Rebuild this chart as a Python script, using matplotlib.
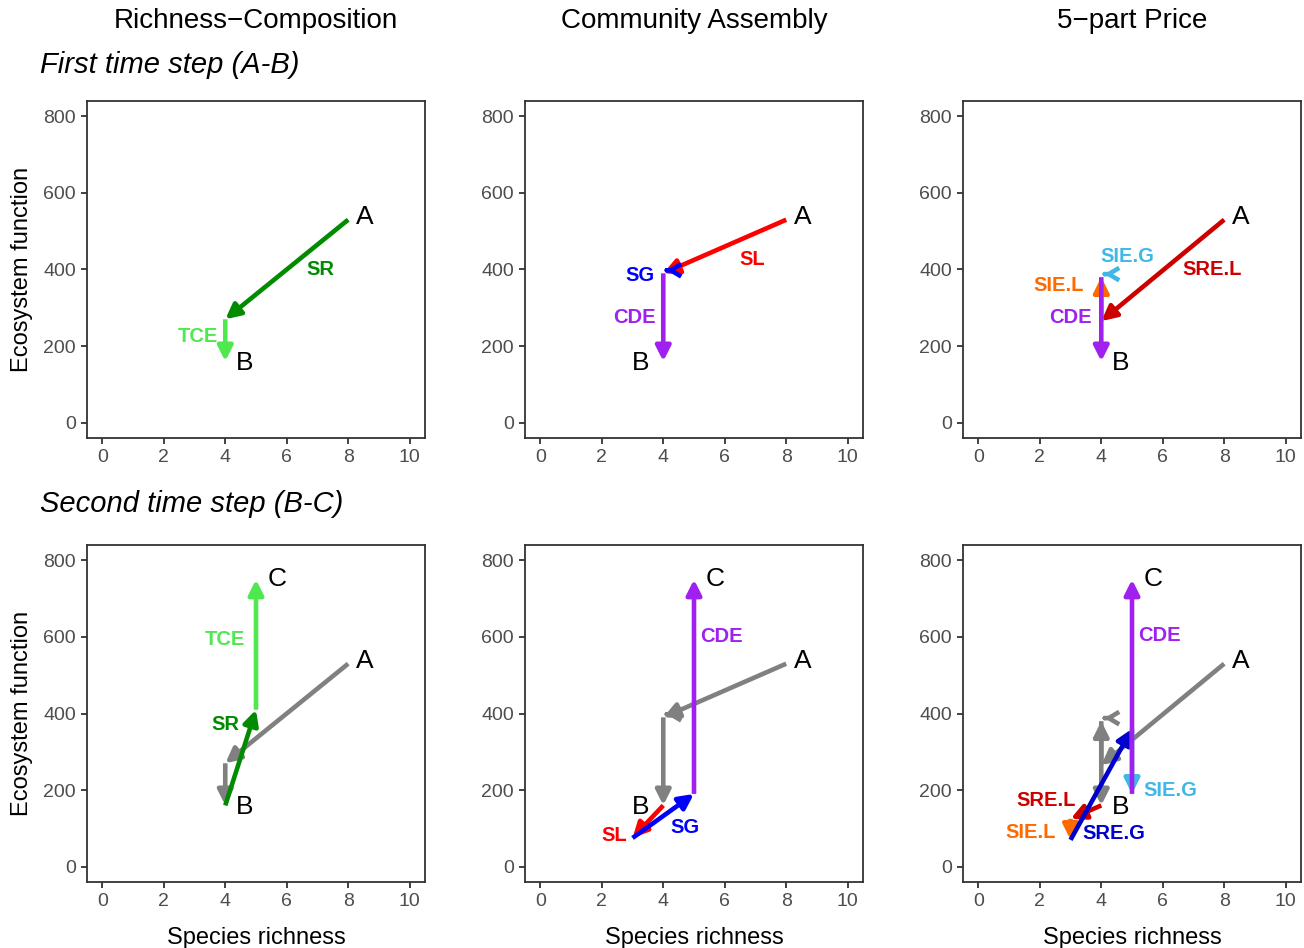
import numpy as np
import matplotlib
matplotlib.use("Agg")
import matplotlib.pyplot as plt

plt.rcParams['font.family'] = ['Liberation Sans', 'DejaVu Sans']

# reference points
A = (8, 530)
B = (4, 160)
C = (5, 750)

# path of each partition: richness and function after every component
# first time step (A-B)
rc1_x = [8, 4, 4]
rc1_y = [530, 270, 160]
rc1_parts = ["SR", "TCE"]

ca1_x = [8, 4, 4, 4]
ca1_y = [530, 390, 390, 160]
ca1_parts = ["SL", "SG", "CDE"]

pr1_x = [8, 4, 4, 4, 4]
pr1_y = [530, 265, 380, 380, 160]
pr1_parts = ["SRE.L", "SIE.L", "SIE.G", "CDE"]

# second time step (B-C)
rc2_x = [4, 5, 5]
rc2_y = [160, 410, 750]
rc2_parts = ["SR", "TCE"]

ca2_x = [4, 3, 5, 5]
ca2_y = [160, 75, 190, 750]
ca2_parts = ["SL", "SG", "CDE"]

pr2_x = [4, 3, 3, 5, 5, 5]
pr2_y = [160, 125, 70, 360, 190, 750]
pr2_parts = ["SRE.L", "SIE.L", "SRE.G", "SIE.G", "CDE"]

colors = {
    "SR": "#008B00", "TCE": "#4FE84F",
    "SL": "#FF0000", "SG": "#0000FF", "CDE": "#A020F0",
    "SRE.L": "#CD0000", "SIE.L": "#FF6A00", "SRE.G": "#0000CD",
    "SIE.G": "#3FB8E6",
}
grey = "#808080"

# label positions for the component names
lab1 = [
    {"SR": (7.1, 400), "TCE": (3.1, 226)},
    {"SL": (6.9, 426), "SG": (3.25, 384), "CDE": (3.05, 275)},
    {"SIE.G": (4.85, 434), "SRE.L": (7.6, 400), "SIE.L": (2.6, 358),
     "CDE": (3.0, 275)},
]
lab2 = [
    {"TCE": (4.0, 594), "SR": (4.0, 370)},
    {"CDE": (5.9, 601), "SL": (2.4, 82), "SG": (4.7, 102)},
    {"CDE": (5.9, 604), "SIE.G": (6.25, 198), "SRE.L": (2.2, 172),
     "SIE.L": (1.7, 88), "SRE.G": (4.4, 86)},
]

col_titles = ["Richness\u2212Composition", "Community Assembly", "5\u2212part Price"]

W, H = 1304, 948
fig = plt.figure(figsize=(W / 100, H / 100), dpi=100)


def draw_path(ax, xs, ys, parts, col=None):
    for k in range(len(parts)):
        x0, y0, x1, y1 = xs[k], ys[k], xs[k + 1], ys[k + 1]
        style = "-|>,head_length=0.9,head_width=0.45"
        if x0 == x1 and y0 == y1:
            # zero-length component: only an open head is drawn, pointing left
            x0 = x1 + 0.03
            x1 = x1 + 0.1
            x0 = x1 + 0.03
            y0 = y1 = y1 + 8
            style = "->,head_length=0.75,head_width=0.45"
        c = col if col else colors[parts[k]]
        ax.annotate("", xy=(x1, y1), xytext=(x0, y0),
                    arrowprops=dict(arrowstyle=style,
                                    lw=3.3, color=c, shrinkA=0, shrinkB=0,
                                    joinstyle="round", capstyle="butt",
                                    mutation_scale=10))


def style_axes(ax, xlab, ylab):
    ax.set_xlim(-0.5, 10.5)
    ax.set_ylim(-40, 840)
    ax.set_xticks([0, 2, 4, 6, 8, 10])
    ax.set_yticks([0, 200, 400, 600, 800])
    for s in ax.spines.values():
        s.set_color("#333333")
        s.set_linewidth(1.3)
    ax.tick_params(colors="#333333", labelcolor="#4D4D4D", labelsize=14,
                   length=4, width=1.3, direction="out", pad=4)
    if xlab:
        ax.set_xlabel("Species richness", fontsize=17, labelpad=12)
    if ylab:
        ax.set_ylabel("Ecosystem function", fontsize=17, labelpad=7)


lefts = [87, 525, 963]
tops = [101, 545]
pw, ph = 338, 337

paths1 = [(rc1_x, rc1_y, rc1_parts), (ca1_x, ca1_y, ca1_parts), (pr1_x, pr1_y, pr1_parts)]
paths2 = [(rc2_x, rc2_y, rc2_parts), (ca2_x, ca2_y, ca2_parts), (pr2_x, pr2_y, pr2_parts)]

for r in range(2):
    for j in range(3):
        ax = fig.add_axes([lefts[j] / W, 1 - (tops[r] + ph) / H, pw / W, ph / H])
        style_axes(ax, r == 1, j == 0)
        if r == 0:
            xs, ys, parts = paths1[j]
            draw_path(ax, xs, ys, parts)
            labs = lab1[j]
        else:
            xs, ys, parts = paths1[j]
            draw_path(ax, xs, ys, parts, col=grey)
            xs, ys, parts = paths2[j]
            draw_path(ax, xs, ys, parts)
            labs = lab2[j]
            ax.text(C[0] + 0.68, C[1], "C", fontsize=19, ha="center", va="center")
        ax.text(A[0] + 0.54, A[1] + 8, "A", fontsize=19, ha="center", va="center")
        if j == 1:
            bx = B[0] - 0.75
        else:
            bx = B[0] + 0.64
        ax.text(bx, B[1] - 4, "B", fontsize=19, ha="center", va="center")
        for name, (lx, ly) in labs.items():
            ax.text(lx, ly, name, fontsize=14.5, fontweight="bold",
                    color=colors[name], ha="center", va="center")

for j in range(3):
    fig.text((lefts[j] + pw / 2) / W, 1 - 21 / H, col_titles[j], fontsize=20,
             ha="center", va="center")

fig.text(40 / W, 1 - 65 / H, "First time step (A-B)", fontsize=21,
         style="italic", ha="left", va="center")
fig.text(40 / W, 1 - 504 / H, "Second time step (B-C)", fontsize=21,
         style="italic", ha="left", va="center")

fig.savefig("out.png", dpi=100)
